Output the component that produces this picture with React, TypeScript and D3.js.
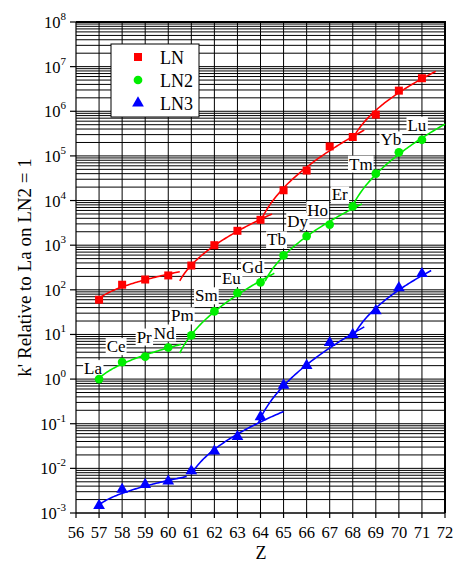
import React, { useEffect, useRef } from 'react';
import * as d3 from 'd3';

const Z = [57, 58, 59, 60, 61, 62, 63, 64, 65, 66, 67, 68, 69, 70, 71];
const elements = ['La', 'Ce', 'Pr', 'Nd', 'Pm', 'Sm', 'Eu', 'Gd', 'Tb', 'Dy', 'Ho', 'Er', 'Tm', 'Yb', 'Lu'];
const LN = [60, 130, 170, 210, 350, 1000, 2100, 3700, 17000, 47000, 163000, 265000, 840000, 2900000, 5500000];
const LN2 = [1.0, 2.4, 3.2, 5.1, 9.5, 33, 85, 147, 590, 1600, 2900, 7400, 40000, 120000, 230000];
const LN3 = [0.0014, 0.0032, 0.0041, 0.0049, 0.0083, 0.023, 0.049, 0.135, 0.69, 1.9, 6.2, 9.4, 32, 105, 218];
const xTicks = [56, 57, 58, 59, 60, 61, 62, 63, 64, 65, 66, 67, 68, 69, 70, 71, 72];
const yExponents = [-3, -2, -1, 0, 1, 2, 3, 4, 5, 6, 7, 8];
// fitted curve ranges (Z start, Z end) for each tetrad segment
const LNSegments = [[57, 60.5], [60.5, 64.5], [64.0, 68.5], [68.0, 71.6]];
const LN2Segments = [[57, 60.55], [60.5, 64.6], [64.2, 68.4], [67.9, 72]];
const LN3Segments = [[57, 60.8], [61.0, 65.0], [63.9, 68.5], [68.0, 71.4]];
const seriesNames = ['LN', 'LN2', 'LN3'];

// label offsets (px) relative to LN2 point
const labelOffsets = [
  [-6, -11], [-6, -16], [-1, -20], [-4, -15], [-9, -20], [-8, -16], [-6, -15], [-8, -15],
  [-7, -16], [-9, -15], [-12, -15], [-13, -12], [-15, -10], [-8, -13], [-5, -15],
];

const FONT = '"Liberation Serif", "Times New Roman", serif';

function fitSegment(values: number[], seg: number[]) {
  const [s, e] = seg;
  const s0 = s - 0.25;
  const pts: [number, number][] = [];
  Z.forEach((z, i) => {
    if (z >= s - 0.1 && z <= e - 0.05) pts.push([Math.sqrt(z - s0), Math.log10(values[i])]);
  });
  const mt = d3.mean(pts, (p) => p[0])!;
  const my = d3.mean(pts, (p) => p[1])!;
  let num = 0, den = 0;
  pts.forEach(([t, v]) => { num += (t - mt) * (v - my); den += (t - mt) * (t - mt); });
  const b = num / den;
  const a = my - b * mt;
  const n = 60;
  const out: [number, number][] = [];
  for (let k = 0; k <= n; k++) {
    const z = s + ((e - s) * k) / n;
    out.push([z, Math.pow(10, a + b * Math.sqrt(z - s0))]);
  }
  return out;
}

export default function App() {
  const ref = useRef<SVGSVGElement>(null);
  useEffect(() => {
    const svg = d3.select(ref.current);
    svg.selectAll('*').remove();
    const left = 76, right = 445, top = 22, bottom = 513;
    const x = d3.scaleLinear().domain([56, 72]).range([left, right]);
    const y = d3.scaleLog().domain([1e-3, 1e8]).range([bottom, top]);

    svg.append('rect').attr('width', 454).attr('height', 564).attr('fill', '#fff');

    // grid
    const minorVals: number[] = [];
    yExponents.slice(0, -1).forEach((ex) => {
      for (let m = 1; m < 10; m++) minorVals.push(m * Math.pow(10, ex));
    });
    minorVals.push(1e8);
    const grid = svg.append('g');
    grid.selectAll('line.h').data(minorVals).join('line')
      .attr('x1', left).attr('x2', right)
      .attr('y1', (d) => y(d)).attr('y2', (d) => y(d))
      .attr('stroke', '#000').attr('stroke-width', 1);
    grid.selectAll('line.v').data(xTicks.slice(1, -1)).join('line')
      .attr('x1', (d) => x(d)).attr('x2', (d) => x(d))
      .attr('y1', top).attr('y2', bottom)
      .attr('stroke', '#000').attr('stroke-width', 1);

    // frame
    svg.append('line').attr('x1', left).attr('x2', left).attr('y1', top).attr('y2', bottom).attr('stroke', '#000').attr('stroke-width', 1.2);
    svg.append('line').attr('x1', left).attr('x2', right).attr('y1', bottom).attr('y2', bottom).attr('stroke', '#000').attr('stroke-width', 1.2);
    svg.append('line').attr('x1', left).attr('x2', right + 1).attr('y1', top).attr('y2', top).attr('stroke', '#000').attr('stroke-width', 2);
    svg.append('line').attr('x1', right).attr('x2', right).attr('y1', top).attr('y2', bottom).attr('stroke', '#000').attr('stroke-width', 2);

    // x ticks
    const xt = svg.append('g');
    xt.selectAll('line').data(xTicks).join('line')
      .attr('x1', (d) => x(d)).attr('x2', (d) => x(d))
      .attr('y1', bottom).attr('y2', bottom + 5)
      .attr('stroke', '#000').attr('stroke-width', 1.2);
    xt.selectAll('text').data(xTicks).join('text')
      .attr('x', (d) => x(d)).attr('y', bottom + 25)
      .attr('text-anchor', 'middle').attr('font-family', FONT).attr('font-size', 16.5)
      .text((d) => String(d));

    // y ticks
    const yt = svg.append('g');
    yt.selectAll('line').data(yExponents).join('line')
      .attr('x1', left - 6).attr('x2', left)
      .attr('y1', (d) => y(Math.pow(10, d))).attr('y2', (d) => y(Math.pow(10, d)))
      .attr('stroke', '#000').attr('stroke-width', 1.2);
    yExponents.forEach((ex) => {
      const t = yt.append('text')
        .attr('x', left - 10).attr('y', y(Math.pow(10, ex)) + 6)
        .attr('text-anchor', 'end').attr('font-family', FONT).attr('font-size', 16.5);
      t.append('tspan').text('10');
      t.append('tspan').attr('dy', -8).attr('font-size', 11).text(String(ex));
    });

    // axis titles
    svg.append('text')
      .attr('transform', `translate(31,${(top + bottom) / 2}) rotate(-90)`)
      .attr('text-anchor', 'middle').attr('font-family', FONT).attr('font-size', 19)
      .text("k' Relative to La on LN2 = 1");
    svg.append('text')
      .attr('x', 261).attr('y', 559)
      .attr('text-anchor', 'middle').attr('font-family', FONT).attr('font-size', 18)
      .text('Z');

    // element labels
    const lab = svg.append('g');
    elements.forEach((el, i) => {
      const px = x(Z[i]) + labelOffsets[i][0];
      const py = y(LN2[i]) + labelOffsets[i][1];
      const rect = lab.append('rect').attr('fill', '#fff');
      const t = lab.append('text')
        .attr('x', px).attr('y', py + 6)
        .attr('text-anchor', 'middle').attr('font-family', FONT).attr('font-size', 17)
        .text(el);
      const bb = (t.node() as SVGTextElement).getBBox();
      rect.attr('x', bb.x - 1).attr('y', bb.y + 1).attr('width', bb.width + 2).attr('height', bb.height - 2);
    });

    const series = [
      { values: LN, segs: LNSegments, color: '#ff0000', shape: 'square' },
      { values: LN2, segs: LN2Segments, color: '#00ee00', shape: 'circle' },
      { values: LN3, segs: LN3Segments, color: '#0000ff', shape: 'triangle' },
    ];
    const line = d3.line<[number, number]>().x((d) => x(d[0])).y((d) => y(d[1]));
    const symSize: Record<string, number> = { square: 64, circle: 60, triangle: 60 };
    const symType: Record<string, d3.SymbolType> = { square: d3.symbolSquare, circle: d3.symbolCircle, triangle: d3.symbolTriangle };

    series.forEach((s) => {
      const g = svg.append('g');
      s.segs.forEach((seg) => {
        g.append('path').attr('d', line(fitSegment(s.values, seg))!)
          .attr('fill', 'none').attr('stroke', s.color).attr('stroke-width', 1.6);
      });
      const sym = d3.symbol().type(symType[s.shape]).size(symSize[s.shape]);
      g.selectAll('path.m').data(s.values).join('path')
        .attr('d', sym()!)
        .attr('transform', (d, i) => `translate(${x(Z[i])},${y(d) + (s.shape === 'triangle' ? -1 : 0)})`)
        .attr('fill', s.color);
    });

    // legend
    const lg = svg.append('g');
    lg.append('rect').attr('x', 111).attr('y', 44).attr('width', 88).attr('height', 73)
      .attr('fill', '#fff').attr('stroke', '#000').attr('stroke-width', 1);
    series.forEach((s, i) => {
      const cy = 57 + i * 23;
      const sym = d3.symbol().type(symType[s.shape]).size(symSize[s.shape]);
      lg.append('path').attr('d', sym()!).attr('transform', `translate(138,${cy})`).attr('fill', s.color);
      lg.append('text').attr('x', 160).attr('y', cy + 6.5)
        .attr('font-family', FONT).attr('font-size', 18).text(seriesNames[i]);
    });
  }, []);
  return <svg ref={ref} width={454} height={564} style={{ position: 'absolute', left: 0, top: 0 }} />;
}
